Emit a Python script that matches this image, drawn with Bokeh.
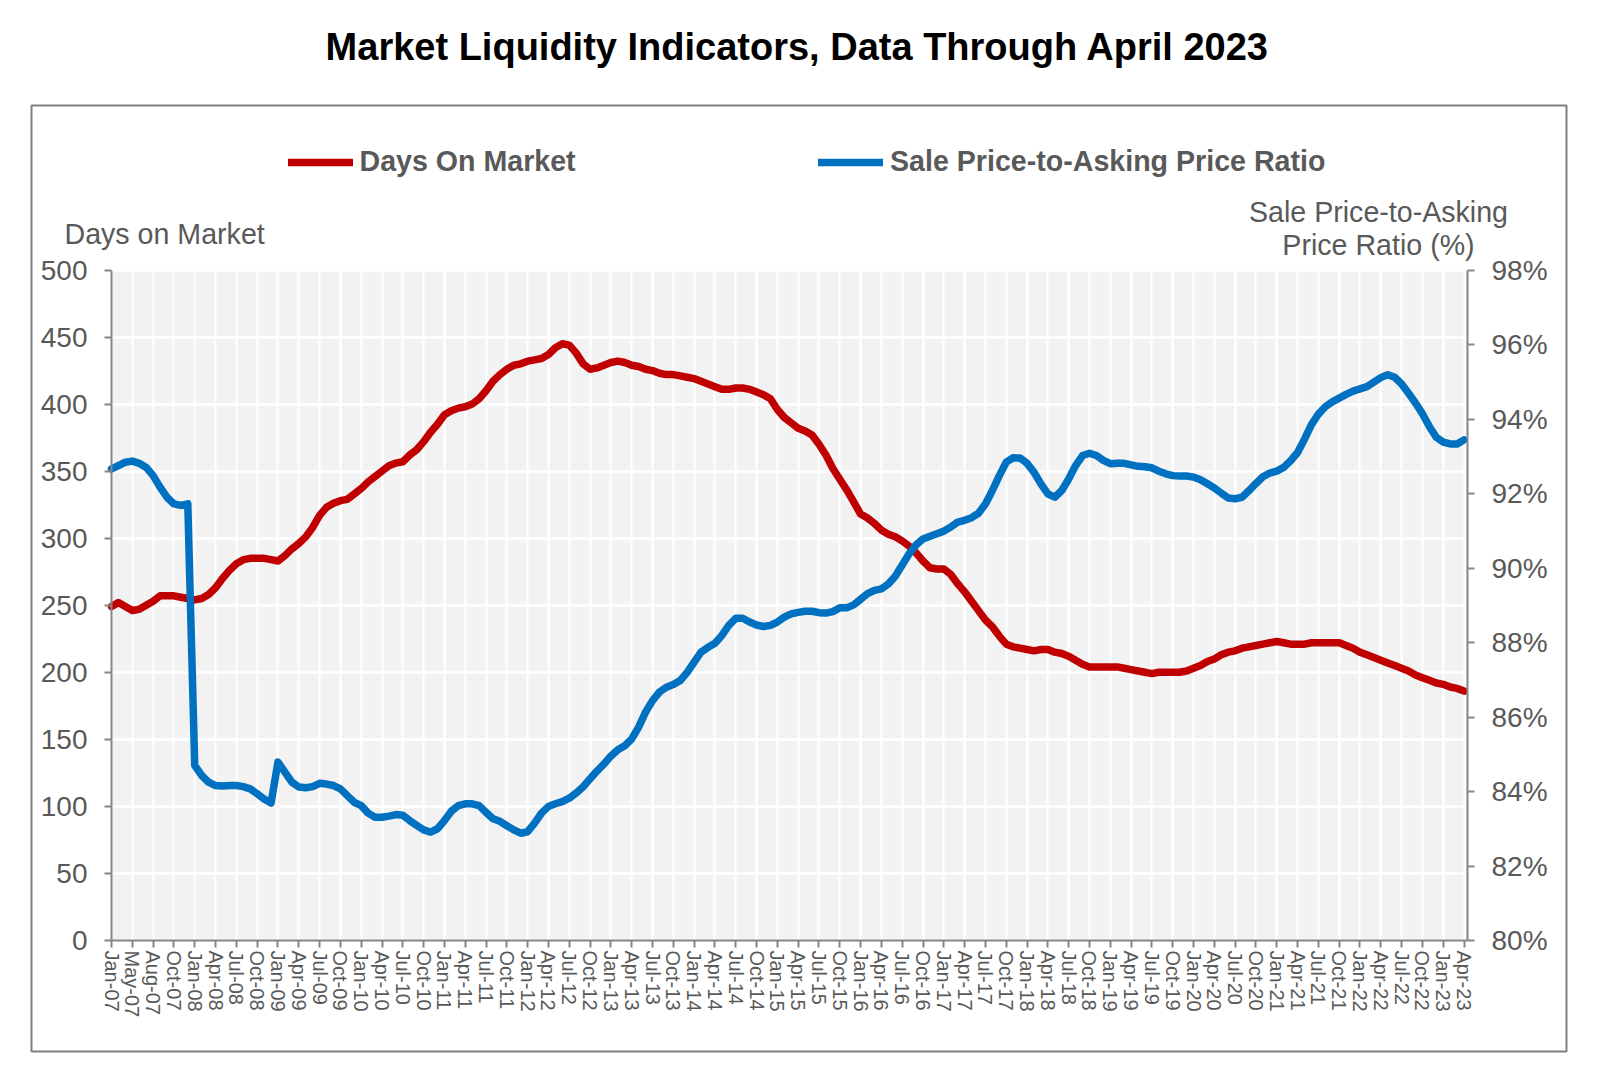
from bokeh.plotting import figure
from bokeh.models import (Range1d, LinearAxis, FixedTicker, Label, BoxAnnotation,
                          Legend, LegendItem, PrintfTickFormatter, Grid)
from bokeh.embed import file_html
from bokeh.resources import INLINE

# ---------------- data ----------------
tick_labels = [
    "Jan-07", "May-07", "Aug-07", "Oct-07",
    "Jan-08", "Apr-08", "Jul-08", "Oct-08",
    "Jan-09", "Apr-09", "Jul-09", "Oct-09",
    "Jan-10", "Apr-10", "Jul-10", "Oct-10",
    "Jan-11", "Apr-11", "Jul-11", "Oct-11",
    "Jan-12", "Apr-12", "Jul-12", "Oct-12",
    "Jan-13", "Apr-13", "Jul-13", "Oct-13",
    "Jan-14", "Apr-14", "Jul-14", "Oct-14",
    "Jan-15", "Apr-15", "Jul-15", "Oct-15",
    "Jan-16", "Apr-16", "Jul-16", "Oct-16",
    "Jan-17", "Apr-17", "Jul-17", "Oct-17",
    "Jan-18", "Apr-18", "Jul-18", "Oct-18",
    "Jan-19", "Apr-19", "Jul-19", "Oct-19",
    "Jan-20", "Apr-20", "Jul-20", "Oct-20",
    "Jan-21", "Apr-21", "Jul-21", "Oct-21",
    "Jan-22", "Apr-22", "Jul-22", "Oct-22",
    "Jan-23", "Apr-23",
]

days_on_market = [
    249, 252, 249, 246, 247, 250, 253, 257, 257, 257, 256, 255,
    254, 255, 258, 263, 270, 276, 281, 284, 285, 285, 285, 284,
    283, 287, 292, 296, 301, 308, 317, 323, 326, 328, 329, 333,
    337, 342, 346, 350, 354, 356, 357, 362, 366, 372, 379, 385,
    392, 395, 397, 398, 400, 404, 410, 417, 422, 426, 429, 430,
    432, 433, 434, 437, 442, 445, 444, 438, 430, 426, 427, 429,
    431, 432, 431, 429, 428, 426, 425, 423, 422, 422, 421, 420,
    419, 417, 415, 413, 411, 411, 412, 412, 411, 409, 407, 404,
    396, 390, 386, 382, 380, 377, 370, 362, 352, 344, 336, 327,
    318, 315, 311, 306, 303, 301, 298, 294, 289, 283, 278, 277,
    277, 273, 266, 260, 253, 246, 239, 234, 227, 221, 219, 218,
    217, 216, 217, 217, 215, 214, 212, 209, 206, 204, 204, 204,
    204, 204, 203, 202, 201, 200, 199, 200, 200, 200, 200, 201,
    203, 205, 208, 210, 213, 215, 216, 218, 219, 220, 221, 222,
    223, 222, 221, 221, 221, 222, 222, 222, 222, 222, 220, 218,
    215, 213, 211, 209, 207, 205, 203, 201, 198, 196, 194, 192,
    191, 189, 188, 186,
]

sale_to_asking_pct = [
    92.66, 92.75, 92.84, 92.87, 92.81, 92.70, 92.48, 92.17, 91.90, 91.72, 91.68, 91.72,
    84.70, 84.43, 84.25, 84.16, 84.15, 84.16, 84.16, 84.13, 84.07, 83.94, 83.80, 83.69,
    84.79, 84.52, 84.25, 84.12, 84.10, 84.13, 84.22, 84.20, 84.16, 84.07, 83.89, 83.71,
    83.62, 83.42, 83.31, 83.31, 83.34, 83.38, 83.36, 83.22, 83.09, 82.97, 82.91, 83.00,
    83.22, 83.47, 83.62, 83.67, 83.67, 83.62, 83.44, 83.27, 83.20, 83.08, 82.97, 82.88,
    82.92, 83.15, 83.42, 83.60, 83.67, 83.73, 83.82, 83.96, 84.13, 84.34, 84.55, 84.74,
    84.95, 85.12, 85.23, 85.41, 85.73, 86.13, 86.44, 86.67, 86.80, 86.87, 86.98, 87.20,
    87.47, 87.74, 87.87, 87.98, 88.19, 88.46, 88.65, 88.65, 88.55, 88.47, 88.43, 88.46,
    88.55, 88.68, 88.77, 88.81, 88.84, 88.84, 88.80, 88.79, 88.83, 88.93, 88.93, 89.01,
    89.16, 89.31, 89.40, 89.44, 89.57, 89.78, 90.08, 90.38, 90.62, 90.78, 90.85, 90.92,
    90.99, 91.10, 91.23, 91.28, 91.35, 91.47, 91.72, 92.08, 92.48, 92.84, 92.96, 92.95,
    92.81, 92.57, 92.26, 91.99, 91.90, 92.08, 92.39, 92.75, 93.02, 93.08, 93.02, 92.89,
    92.80, 92.81, 92.81, 92.77, 92.73, 92.72, 92.69, 92.60, 92.53, 92.48, 92.47, 92.47,
    92.44, 92.37, 92.26, 92.15, 92.01, 91.88, 91.86, 91.90, 92.08, 92.27, 92.45, 92.55,
    92.60, 92.70, 92.88, 93.10, 93.46, 93.85, 94.13, 94.33, 94.46, 94.56, 94.66, 94.75,
    94.81, 94.87, 94.99, 95.11, 95.19, 95.12, 94.94, 94.69, 94.43, 94.14, 93.80, 93.51,
    93.38, 93.33, 93.33, 93.44,
]

series_names = ["Days On Market", "Sale Price-to-Asking Price Ratio"]
title_text = "Market Liquidity Indicators, Data Through April 2023"
left_title = "Days on Market"
right_title = ["Sale Price-to-Asking", "Price Ratio (%)"]
left_ticks = [0, 50, 100, 150, 200, 250, 300, 350, 400, 450, 500]
right_ticks = [80, 82, 84, 86, 88, 90, 92, 94, 96, 98]

# ---------------- geometry (page pixels) ----------------
W, H = 1600, 1087
PL, PR, PT, PB = 111.0, 1467.0, 269.5, 940.0      # plot area edges
X0, X1 = 0.0, 195.5                                # index range of plot area
Y0, Y1 = 0.0, 500.0                                # days range
P0, P1 = 80.0, 98.0                                # percent range
FONT = "Liberation Sans"
GREY_TXT = "#595959"
AXIS_GREY = "#868686"
RED = "#C00000"
BLUE = "#0070C0"

xs = (PR - PL) / (X1 - X0)
ys = (PB - PT) / (Y1 - Y0)
ps = (PB - PT) / (P1 - P0)


def fx(px):  # page pixel x -> data x
    return X0 + (px - PL) / xs


def fy(py):  # page pixel y -> data y (days)
    return Y0 + (PB - py) / ys


x_idx = list(range(len(days_on_market)))
tick_pos = list(range(0, 3 * len(tick_labels), 3))

p = figure(width=W, height=H, output_backend="svg", toolbar_location=None,
           x_range=Range1d(fx(0), fx(W)), y_range=Range1d(fy(H), fy(0)),
           x_axis_location=None, y_axis_location=None, min_border=0)
p.extra_y_ranges = {"pct": Range1d(P0 - (H - PB) / ps, P1 + PT / ps)}
p.background_fill_color = "white"
p.border_fill_color = "white"
p.outline_line_color = None
for g in p.grid:
    g.visible = False

# plot-area background
p.add_layout(BoxAnnotation(left=X0, right=X1, bottom=Y0, top=Y1, fill_color="#F2F2F2",
                           fill_alpha=1, line_color=None, level="image"))

# grids limited to the plot area
p.add_layout(Grid(dimension=0, ticker=FixedTicker(ticks=tick_pos), bounds=(X0, X1),
                  cross_bounds=(Y0, Y1), grid_line_color="white", grid_line_width=2))
p.add_layout(Grid(dimension=1, ticker=FixedTicker(ticks=left_ticks), bounds=(Y0, Y1),
                  cross_bounds=(X0, X1), grid_line_color="white", grid_line_width=2.5))


def style_axis(ax, size, standoff):
    ax.major_label_text_font = FONT
    ax.major_label_text_font_size = size
    ax.major_label_text_color = GREY_TXT
    ax.major_label_standoff = standoff
    ax.axis_line_color = AXIS_GREY
    ax.axis_line_width = 2
    ax.major_tick_line_color = AXIS_GREY
    ax.major_tick_line_width = 2
    ax.major_tick_out = 7
    ax.major_tick_in = 0
    ax.minor_tick_line_color = None


xa = LinearAxis(fixed_location=Y0, bounds=(X0, X1), ticker=FixedTicker(ticks=tick_pos))
xa.major_label_overrides = {t: lab for t, lab in zip(tick_pos, tick_labels)}
xa.major_label_orientation = "vertical"
style_axis(xa, "20px", 3)
p.add_layout(xa, "below")

ya = LinearAxis(fixed_location=X0, bounds=(Y0, Y1), ticker=FixedTicker(ticks=left_ticks))
style_axis(ya, "28px", 17)
p.add_layout(ya, "left")

ra = LinearAxis(y_range_name="pct", fixed_location=X1, bounds=(P0, P1),
                ticker=FixedTicker(ticks=right_ticks),
                formatter=PrintfTickFormatter(format="%d%%"))
style_axis(ra, "28px", 17)
p.add_layout(ra, "right")

# series
r_days = p.line(x_idx, days_on_market, line_color=RED, line_width=7.5,
                line_join="round", line_cap="round")
r_ratio = p.line(x_idx, sale_to_asking_pct, y_range_name="pct", line_color=BLUE,
                 line_width=7.5, line_join="round", line_cap="round")

# legends (one per series)
for rend, name, gx in [(r_days, series_names[0], 287.5), (r_ratio, series_names[1], 818.0)]:
    lg = Legend(items=[LegendItem(label=name, renderers=[rend])],
                location=(gx, H - 178), orientation="horizontal",
                glyph_width=65, glyph_height=20, label_standoff=7,
                label_text_font=FONT, label_text_font_size="28.6px",
                label_text_font_style="bold", label_text_color=GREY_TXT,
                border_line_color=None, background_fill_alpha=0,
                padding=0, margin=0, spacing=0)
    p.add_layout(lg, "center")

# texts
p.add_layout(Label(x=fx(797), y=fy(46), text=title_text, text_align="center",
                   text_baseline="middle", text_font=FONT, text_font_size="38px",
                   text_font_style="bold", text_color="black"))
p.add_layout(Label(x=fx(64), y=fy(233), text=left_title, text_align="left",
                   text_baseline="middle", text_font=FONT, text_font_size="28.6px",
                   text_color=GREY_TXT))
for line_txt, yy in zip(right_title, [211, 244.5]):
    p.add_layout(Label(x=fx(1378), y=fy(yy), text=line_txt, text_align="center",
                       text_baseline="middle", text_font=FONT, text_font_size="28.6px",
                       text_color=GREY_TXT))

# outer chart border
p.add_layout(BoxAnnotation(left=fx(31), right=fx(1566), top=fy(105), bottom=fy(1051),
                           fill_color=None, line_color="#7F7F7F", line_alpha=1,
                           line_width=2))

open("out.html", "w").write(file_html(p, INLINE))
